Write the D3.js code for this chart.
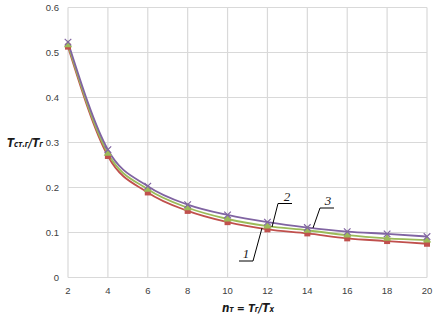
<!DOCTYPE html>
<html>
<script src="https://d3js.org/d3.v7.min.js"></script>
<head>
<style>
  body { margin: 0; background: #fff; }
  svg { display: block; font-family: "Liberation Sans", Arial, sans-serif; }
</style>
</head>
<body>
<script>
  const width = 437, height = 317;
  const margin = { top: 7.5, right: 10, bottom: 39.5, left: 68 };

  // data
  const nValues = [2, 4, 6, 8, 10, 12, 14, 16, 18, 20];
  const series1 = [0.513, 0.270, 0.189, 0.148, 0.123, 0.107, 0.098, 0.087, 0.081, 0.075];
  const series2 = [0.517, 0.276, 0.196, 0.155, 0.130, 0.114, 0.105, 0.094, 0.087, 0.083];
  const series3 = [0.523, 0.284, 0.203, 0.162, 0.139, 0.123, 0.111, 0.102, 0.097, 0.091];
  const yTicks = [0, 0.1, 0.2, 0.3, 0.4, 0.5, 0.6];

  const svg = d3.select("body").append("svg").attr("width", width).attr("height", height);

  const x = d3.scaleLinear().domain([2, 20]).range([margin.left, width - margin.right]);
  const y = d3.scaleLinear().domain([0, 0.6]).range([height - margin.bottom, margin.top]);

  // grid
  svg.append("g").selectAll("line").data(yTicks).enter().append("line")
    .attr("x1", x(2)).attr("x2", x(20))
    .attr("y1", d => y(d)).attr("y2", d => y(d))
    .attr("stroke", "#d9d9d9").attr("stroke-width", 1.2);
  svg.append("g").selectAll("line").data(nValues).enter().append("line")
    .attr("x1", d => x(d)).attr("x2", d => x(d))
    .attr("y1", y(0)).attr("y2", y(0.6))
    .attr("stroke", "#d9d9d9").attr("stroke-width", 1.2);

  // tick labels
  svg.append("g").selectAll("text").data(yTicks).enter().append("text")
    .attr("x", 59).attr("y", d => y(d)).attr("dy", "0.35em")
    .attr("text-anchor", "end").attr("font-size", 9.5).attr("fill", "#404040")
    .text(d => d === 0 ? "0" : d.toFixed(1));
  svg.append("g").selectAll("text").data(nValues).enter().append("text")
    .attr("x", d => x(d)).attr("y", 291).attr("dy", "0.35em")
    .attr("text-anchor", "middle").attr("font-size", 9.5).attr("fill", "#404040")
    .text(d => d);

  const colors = ["#c0504d", "#9bbb59", "#8064a2"];
  const allSeries = [series1, series2, series3];
  const line = d3.line()
    .x((d, i) => x(nValues[i]))
    .y(d => y(d))
    .curve(d3.curveMonotoneX);

  allSeries.forEach((s, k) => {
    svg.append("path").datum(s)
      .attr("fill", "none").attr("stroke", colors[k]).attr("stroke-width", 1.8)
      .attr("d", line);
  });

  // markers
  svg.append("g").selectAll("rect").data(series1).enter().append("rect")
    .attr("x", (d, i) => x(nValues[i]) - 3).attr("y", d => y(d) - 3)
    .attr("width", 6).attr("height", 6).attr("fill", colors[0]);
  const tri = d3.symbol().type(d3.symbolTriangle).size(30);
  svg.append("g").selectAll("path").data(series2).enter().append("path")
    .attr("transform", (d, i) => `translate(${x(nValues[i])},${y(d)})`)
    .attr("d", tri).attr("fill", colors[1]);
  const cross = d3.symbol().type(d3.symbolX).size(30);
  svg.append("g").selectAll("path").data(series3).enter().append("path")
    .attr("transform", (d, i) => `translate(${x(nValues[i])},${y(d)})`)
    .attr("d", cross).attr("fill", "none").attr("stroke", colors[2]).attr("stroke-width", 1.2);

  // curve labels with leaders
  const leaders = [
    { label: "1", tx: 246, ty: 258, pts: [[239, 261], [253, 261], [262, 228]] },
    { label: "2", tx: 287, ty: 201, pts: [[272, 227], [278, 203.5], [292, 203.5]] },
    { label: "3", tx: 328, ty: 205, pts: [[313, 228], [320, 208], [334, 208]] }
  ];
  leaders.forEach(l => {
    svg.append("path")
      .attr("d", d3.line()(l.pts))
      .attr("fill", "none").attr("stroke", "#000").attr("stroke-width", 1);
    svg.append("text")
      .attr("x", l.tx).attr("y", l.ty)
      .attr("text-anchor", "middle")
      .attr("font-family", "Liberation Serif, serif")
      .attr("font-style", "italic").attr("font-size", 13).attr("fill", "#1a1a1a")
      .text(l.label);
  });

  // axis titles
  const yt = svg.append("text").attr("x", 7).attr("y", 147)
    .attr("textLength", 36).attr("lengthAdjust", "spacingAndGlyphs")
    .attr("font-family", "DejaVu Sans, sans-serif")
    .attr("font-weight", "bold").attr("font-style", "oblique").attr("fill", "#1a1a1a");
  yt.append("tspan").attr("font-size", 12).text("T");
  yt.append("tspan").attr("font-size", 8).text("ст.г");
  yt.append("tspan").attr("font-size", 12).text("/T");
  yt.append("tspan").attr("font-size", 8).text("г");

  const xt = svg.append("text").attr("x", 222).attr("y", 312)
    .attr("textLength", 52).attr("lengthAdjust", "spacingAndGlyphs")
    .attr("font-family", "DejaVu Sans, sans-serif")
    .attr("font-weight", "bold").attr("font-style", "oblique").attr("fill", "#1a1a1a");
  xt.append("tspan").attr("font-size", 12).text("n");
  xt.append("tspan").attr("font-size", 8).text("т");
  xt.append("tspan").attr("font-size", 11).text(" = T");
  xt.append("tspan").attr("font-size", 8).text("г");
  xt.append("tspan").attr("font-size", 12).text("/T");
  xt.append("tspan").attr("font-size", 8).text("х");
</script>
</body>
</html>
